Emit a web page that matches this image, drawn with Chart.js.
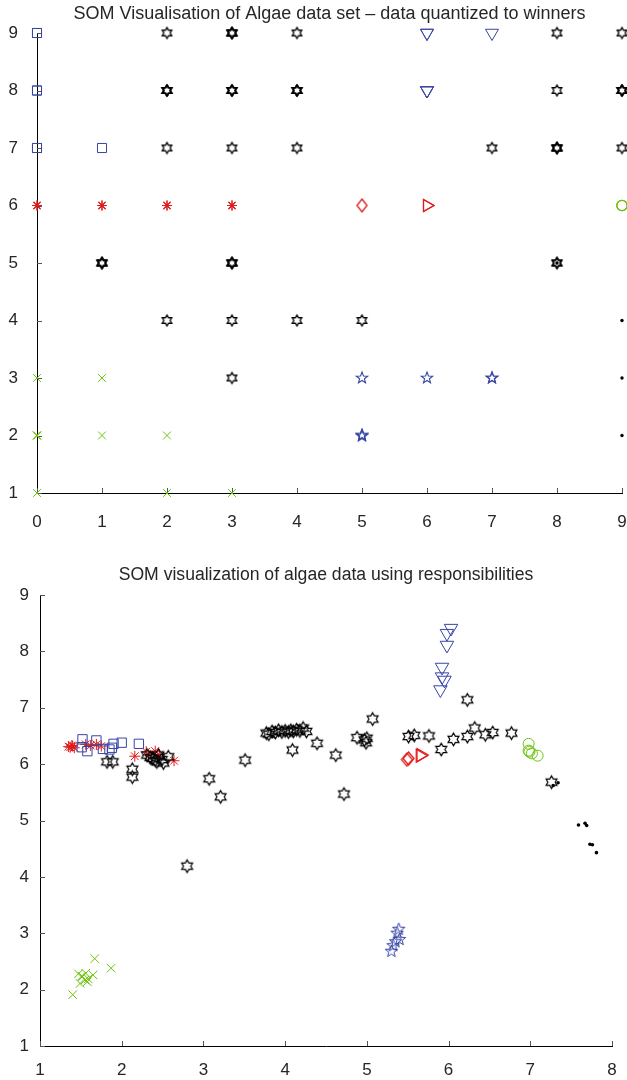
<!DOCTYPE html>
<html>
<head>
<meta charset="utf-8">
<title>SOM algae</title>
<script src="https://cdn.jsdelivr.net/npm/chart.js@4.4.0/dist/chart.umd.min.js"></script>
<style>
  body { margin: 0; background: #fff; }
  canvas.panel { position: absolute; left: 0; }
</style>
</head>
<body>
<canvas id="winnersChart" class="panel" width="627" height="540" style="top:0"></canvas>
<canvas id="respChart" class="panel" width="627" height="540" style="top:540px"></canvas>
<script>
// ---- winners: every sample sits on its winning grid node (repeats = several samples) ----
const winSquares = [[0, 9], [0, 9], [0, 8], [0, 8], [0, 7], [0, 7], [1, 7]];
const winAsterisks = [[0, 6], [0, 6], [1, 6], [1, 6], [2, 6], [2, 6], [3, 6], [3, 6]];
const winTriDown = [[6, 9], [6, 9], [7, 9], [6, 8], [6, 8], [6, 8]];
const winDiamonds = [[5, 6]];
const winTriRight = [[6, 6], [6, 6]];
const winCircles = [[9, 6], [9, 6]];
const winPentagrams = [[5, 3], [6, 3], [7, 3], [7, 3], [5, 2], [5, 2], [5, 2]];
const winCrosses = [[0, 3], [1, 3], [0, 2], [0, 2], [0, 2], [1, 2], [2, 2], [0, 1], [2, 1], [3, 1]];
const winDots = [[9, 4], [9, 3], [9, 2], [8, 5]];
const winHexagrams = [
  [2, 9], [3, 9], [3, 9], [3, 9], [4, 9], [8, 9], [9, 9],
  [2, 8], [2, 8], [2, 8], [3, 8], [3, 8], [3, 8], [4, 8], [4, 8], [4, 8], [8, 8], [9, 8], [9, 8], [9, 8],
  [2, 7], [3, 7], [4, 7], [7, 7], [8, 7], [8, 7], [8, 7], [9, 7],
  [1, 5], [1, 5], [1, 5], [3, 5], [3, 5], [3, 5], [8, 5], [8, 5],
  [2, 4], [3, 4], [4, 4], [5, 4], [3, 3]
];
const winXTicks = [0, 9];
const winYTicks = [1, 9];

// ---- responsibilities: samples placed by their responsibility-weighted positions ----
const respSquares = [[1.52, 6.44], [1.51, 6.30], [1.58, 6.23], [1.69, 6.42], [1.77, 6.27],
  [1.85, 6.26], [1.88, 6.29], [1.90, 6.36], [2.00, 6.38], [2.21, 6.36]];
const respAsterisks = [[1.35, 6.31], [1.37, 6.30], [1.40, 6.32], [1.42, 6.29], [1.39, 6.33],
  [1.56, 6.35], [1.62, 6.33], [1.69, 6.35], [1.75, 6.32], [2.16, 6.14], [2.30, 6.22],
  [2.33, 6.16], [2.41, 6.23], [2.46, 6.17], [2.64, 6.06]];
const respHexagrams = [
  [1.82, 6.04], [1.89, 6.04], [2.13, 5.91], [2.13, 5.77], [2.31, 6.16], [2.35, 6.12], [2.41, 6.07],
  [2.45, 6.16], [2.43, 6.04], [2.51, 6.02], [2.57, 6.13], [2.38, 6.10], [2.49, 6.08],
  [2.80, 4.19], [3.07, 5.74], [3.21, 5.42], [3.51, 6.07],
  [3.77, 6.55], [3.80, 6.53], [3.84, 6.58], [3.88, 6.56], [3.92, 6.60], [3.96, 6.57], [4.00, 6.59],
  [4.04, 6.57], [4.07, 6.60], [4.10, 6.58], [4.14, 6.61], [4.18, 6.59], [4.22, 6.64], [4.26, 6.58],
  [4.09, 6.25], [4.39, 6.37], [4.62, 6.16], [4.72, 5.47], [4.88, 6.47], [4.97, 6.43], [5.00, 6.46],
  [4.99, 6.38], [5.07, 6.80],
  [5.51, 6.49], [5.58, 6.51], [5.76, 6.50], [5.91, 6.26], [6.06, 6.44], [6.23, 6.49], [6.32, 6.64],
  [6.45, 6.52], [6.54, 6.56], [6.23, 7.14], [6.77, 6.55], [7.26, 5.68]
];
const respTriDown = [[6.03, 8.41], [5.98, 8.32], [5.98, 8.11], [5.92, 7.72], [5.92, 7.55], [5.95, 7.49], [5.90, 7.32]];
const respPentagrams = [[5.39, 3.07], [5.37, 3.00], [5.40, 2.89], [5.35, 2.85], [5.32, 2.78], [5.30, 2.68]];
const respDiamonds = [[5.49, 6.08], [5.51, 6.10]];
const respTriRight = [[5.65, 6.15], [5.66, 6.16]];
const respCircles = [[6.98, 6.36], [6.99, 6.22], [7.02, 6.19], [7.09, 6.15], [6.98, 6.24]];
const respCrosses = [[1.40, 1.91], [1.47, 2.28], [1.51, 2.24], [1.49, 2.11], [1.56, 2.29], [1.55, 2.17],
  [1.58, 2.14], [1.59, 2.19], [1.65, 2.26], [1.67, 2.55], [1.87, 2.38], [1.52, 2.23]];
const respDots = [[7.34, 5.67], [7.28, 5.62], [7.59, 4.92], [7.67, 4.95], [7.69, 4.91],
  [7.73, 4.58], [7.76, 4.57], [7.81, 4.43]];
const respXTicks = [1, 8];
const respYTicks = [1, 9];

const BLUE = '#3745a6';
const RED = '#e01b1b';
const GREEN = '#6cc20a';
const BLACK = '#000';
const TEXT = '#262626';
const FONT = 'Liberation Sans, Arial, Helvetica, sans-serif';

// small offscreen canvases used as point styles for the shapes Chart.js lacks
function markerCanvas(size, draw) {
  const c = document.createElement('canvas');
  c.width = size;
  c.height = size;
  const ctx = c.getContext('2d');
  ctx.translate(size / 2, size / 2);
  draw(ctx);
  return c;
}

function starMarker(points, outer, innerRatio, color, lw) {
  const size = Math.ceil(outer * 2 + 4);
  return markerCanvas(size, ctx => {
    ctx.beginPath();
    for (let i = 0; i < points * 2; i++) {
      const r = i % 2 === 0 ? outer : outer * innerRatio;
      const a = -Math.PI / 2 + i * Math.PI / points;
      const px = r * Math.cos(a);
      const py = r * Math.sin(a);
      if (i === 0) ctx.moveTo(px, py); else ctx.lineTo(px, py);
    }
    ctx.closePath();
    ctx.strokeStyle = color;
    ctx.lineWidth = lw;
    ctx.stroke();
  });
}

function diamondMarker(halfW, halfH, color, lw) {
  const size = Math.ceil(halfH * 2 + 4);
  return markerCanvas(size, ctx => {
    ctx.beginPath();
    ctx.moveTo(0, -halfH);
    ctx.lineTo(halfW, 0);
    ctx.lineTo(0, halfH);
    ctx.lineTo(-halfW, 0);
    ctx.closePath();
    ctx.strokeStyle = color;
    ctx.lineWidth = lw;
    ctx.stroke();
  });
}

function series(list, style) {
  return Object.assign({
    data: list.map(([x, y]) => ({ x, y })),
    showLine: false,
    clip: false,
    backgroundColor: 'rgba(0,0,0,0)'
  }, style);
}

// ticks are drawn inward from the axes
const innerTicks = {
  id: 'innerTicks',
  beforeDatasetsDraw(chart) {
    const { ctx, chartArea, scales } = chart;
    ctx.save();
    ctx.strokeStyle = '#555';
    ctx.lineWidth = 1;
    ctx.beginPath();
    scales.x.ticks.forEach(t => {
      const px = Math.round(scales.x.getPixelForValue(t.value)) + 0.5;
      ctx.moveTo(px, chartArea.bottom);
      ctx.lineTo(px, chartArea.bottom - 5);
    });
    scales.y.ticks.forEach(t => {
      const py = Math.round(scales.y.getPixelForValue(t.value)) + 0.5;
      ctx.moveTo(chartArea.left, py);
      ctx.lineTo(chartArea.left + 5, py);
    });
    ctx.stroke();
    ctx.restore();
  }
};

// title centred over the plot box rather than the whole canvas
const axesTitle = {
  id: 'axesTitle',
  afterDraw(chart, args, opts) {
    const { ctx, chartArea } = chart;
    ctx.save();
    ctx.font = `${opts.size}px ${FONT}`;
    ctx.fillStyle = TEXT;
    ctx.textAlign = 'center';
    ctx.textBaseline = 'middle';
    ctx.fillText(opts.text, (chartArea.left + chartArea.right) / 2, opts.y);
    ctx.restore();
  }
};

function axis(range, width, height, pad) {
  return {
    type: 'linear',
    min: range[0],
    max: range[1],
    ticks: { stepSize: 1, padding: pad, color: TEXT, font: { family: FONT, size: 17 } },
    grid: { display: false, drawTicks: false },
    border: { display: true, color: BLACK, width: 1 },
    afterFit(scale) {
      if (width) scale.width = width;
      if (height) scale.height = height;
      // let layout.padding alone decide the plot box edges
      scale.paddingLeft = 0;
      scale.paddingRight = 0;
      scale.paddingTop = 0;
      scale.paddingBottom = 0;
    }
  };
}

function makeChart(id, cfg) {
  return new Chart(document.getElementById(id), {
    type: 'scatter',
    data: { datasets: cfg.datasets },
    options: {
      responsive: false,
      animation: false,
      events: [],
      layout: {
        autoPadding: false,
        padding: { left: 0, right: cfg.right, top: cfg.top, bottom: 0 }
      },
      plugins: {
        legend: { display: false },
        tooltip: { enabled: false },
        title: { display: false },
        axesTitle: { text: cfg.title, size: cfg.titleSize, y: cfg.titleY }
      },
      scales: {
        x: axis(cfg.xRange, 0, cfg.xHeight, cfg.xPad),
        y: axis(cfg.yRange, cfg.yWidth, 0, cfg.yPad)
      }
    },
    plugins: [innerTicks, axesTitle]
  });
}

// top panel markers (slightly smaller)
const hexSmall = starMarker(6, 5.5, 0.577, BLACK, 1.3);
const pentSmall = starMarker(5, 6, 0.42, BLUE, 1.1);
const diamondSmall = diamondMarker(5, 6.5, RED, 1.3);

makeChart('winnersChart', {
  title: 'SOM Visualisation of Algae data set \u2013 data quantized to winners',
  titleSize: 18,
  titleY: 14,
  top: 33,
  right: 5,
  xRange: winXTicks, yRange: winYTicks,
  xHeight: 47, yWidth: 37, xPad: 19, yPad: 19,
  datasets: [
    series(winHexagrams, { pointStyle: hexSmall }),
    series(winSquares, { pointStyle: 'rect', pointRadius: 6.4, borderColor: BLUE, borderWidth: 1 }),
    series(winAsterisks, { pointStyle: 'star', pointRadius: 5, borderColor: RED, borderWidth: 1.1 }),
    series(winTriDown, { pointStyle: 'triangle', rotation: 180, pointRadius: 7.5, borderColor: BLUE, borderWidth: 1 }),
    series(winDiamonds, { pointStyle: diamondSmall }),
    series(winTriRight, { pointStyle: 'triangle', rotation: 90, pointRadius: 7, borderColor: RED, borderWidth: 1.2 }),
    series(winCircles, { pointStyle: 'circle', pointRadius: 5.2, borderColor: GREEN, borderWidth: 1.2 }),
    series(winPentagrams, { pointStyle: pentSmall }),
    series(winCrosses, { pointStyle: 'crossRot', pointRadius: 5.5, borderColor: GREEN, borderWidth: 1 }),
    series(winDots, { pointStyle: 'circle', pointRadius: 1.7, borderWidth: 0, backgroundColor: BLACK })
  ]
});

// bottom panel markers
const hexLarge = starMarker(6, 6.3, 0.577, BLACK, 1.2);
const pentLarge = starMarker(5, 6.5, 0.42, BLUE, 1);
const diamondLarge = diamondMarker(5.5, 6.5, RED, 1.3);

makeChart('respChart', {
  title: 'SOM visualization of algae data using responsibilities',
  titleSize: 17.6,
  titleY: 35,
  top: 55,
  right: 15,
  xRange: respXTicks, yRange: respYTicks,
  xHeight: 34, yWidth: 40, xPad: 14, yPad: 11,
  datasets: [
    series(respHexagrams, { pointStyle: hexLarge }),
    series(respSquares, { pointStyle: 'rect', pointRadius: 6.6, borderColor: BLUE, borderWidth: 1 }),
    series(respAsterisks, { pointStyle: 'star', pointRadius: 5.5, borderColor: RED, borderWidth: 1 }),
    series(respTriDown, { pointStyle: 'triangle', rotation: 180, pointRadius: 7.8, borderColor: BLUE, borderWidth: 1 }),
    series(respDiamonds, { pointStyle: diamondLarge }),
    series(respTriRight, { pointStyle: 'triangle', rotation: 90, pointRadius: 7.5, borderColor: RED, borderWidth: 1.2 }),
    series(respCircles, { pointStyle: 'circle', pointRadius: 5.5, borderColor: GREEN, borderWidth: 1 }),
    series(respPentagrams, { pointStyle: pentLarge }),
    series(respCrosses, { pointStyle: 'crossRot', pointRadius: 6, borderColor: GREEN, borderWidth: 1 }),
    series(respDots, { pointStyle: 'circle', pointRadius: 1.8, borderWidth: 0, backgroundColor: BLACK })
  ]
});
</script>
</body>
</html>
